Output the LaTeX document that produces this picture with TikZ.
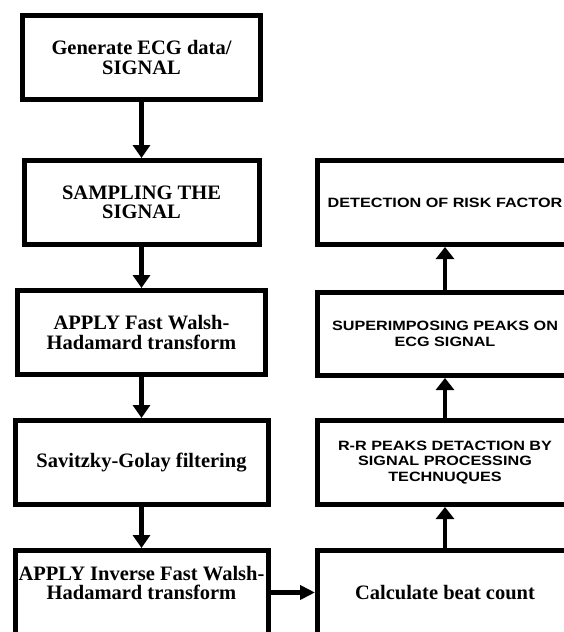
\documentclass[tikz,border=0pt]{standalone}
\usepackage{fontspec}
\setmainfont{Liberation Serif}
\newfontfamily\arialw{Liberation Sans}[FakeStretch=1.2]
\usetikzlibrary{arrows.meta}
\begin{document}
\begin{tikzpicture}[x=1pt,y=-1pt,
  box/.style={draw, line width=5pt, inner sep=0pt, align=center, minimum height=84pt},
  ser/.style={font=\bfseries\fontsize{20.5}{19.5}\selectfont},
  san/.style={font=\arialw\bfseries\fontsize{13.5}{15.5}\selectfont},
  larr/.style={line width=5pt, -{Triangle[width=17pt,length=13pt]}},
  rarr/.style={line width=4pt, -{Triangle[width=18pt,length=12pt]}},
  harr/.style={line width=4.5pt, -{Triangle[width=14pt,length=15pt]}}]
\clip (0,0) rectangle (564,632);
\fill[white] (0,0) rectangle (564,632);
% left column
\node[box,ser,minimum width=238pt] (b1) at (141.5,57.5) {Generate ECG data/\\SIGNAL};
\node[box,ser,minimum width=235pt] (b2) at (141.5,202.5) {SAMPLING THE\\SIGNAL};
\node[box,ser,minimum width=248pt] (b3) at (141.5,332.5) {APPLY Fast Walsh-\\Hadamard transform};
\node[box,ser,minimum width=253pt] (b4) at (141.5,462.5) {Savitzky-Golay filtering};
\node[box,minimum width=253pt] (b5) at (141.5,592.5) {};
\node[ser,align=center,inner sep=0pt] (t5) at (141.5,583) {APPLY Inverse Fast Walsh-\\Hadamard transform};
% right column
\node[box,san,minimum width=255pt] (r1) at (445,202.5) {DETECTION OF RISK FACTOR};
\node[box,san,minimum width=255pt,minimum height=83pt] (r2) at (445,334) {SUPERIMPOSING PEAKS ON\\ECG SIGNAL};
\node[box,san,minimum width=255pt] (r3) at (445,462.5) {R-R PEAKS DETACTION BY\\SIGNAL PROCESSING\\TECHNUQUES};
\node[box,ser,minimum width=255pt] (r4) at (445,592.5) {Calculate beat count};
% connectors
\draw[larr] (b1.south) -- (b2.north);
\draw[larr] (b2.south) -- (b3.north);
\draw[larr] (b3.south) -- (b4.north);
\draw[larr] (b4.south) -- (b5.north);
\draw[harr] (b5.east) -- (r4.west);
\draw[rarr] (r4.north) -- (r3.south);
\draw[rarr] (r3.north) -- (r2.south);
\draw[rarr] (r2.north) -- (r1.south);
\end{tikzpicture}
\end{document}
